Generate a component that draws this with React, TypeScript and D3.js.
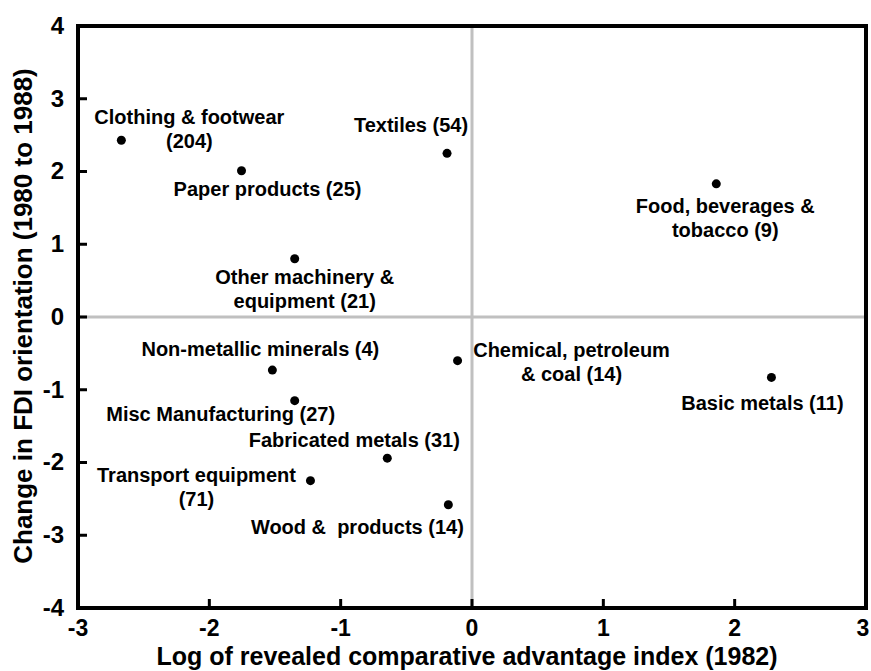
import React from "react";
import * as d3 from "d3";

const categories = [
  "Clothing & footwear (204)",
  "Textiles (54)",
  "Paper products (25)",
  "Food, beverages & tobacco (9)",
  "Other machinery & equipment (21)",
  "Non-metallic minerals (4)",
  "Chemical, petroleum & coal (14)",
  "Basic metals (11)",
  "Misc Manufacturing (27)",
  "Fabricated metals (31)",
  "Transport equipment (71)",
  "Wood &  products (14)",
];
const rcaValues = [-2.67, -0.19, -1.755, 1.86, -1.35, -1.52, -0.11, 2.28, -1.35, -0.645, -1.23, -0.18];
const fdiChange = [2.43, 2.25, 2.01, 1.83, 0.8, -0.73, -0.6, -0.83, -1.15, -1.94, -2.25, -2.58];
const xTicks = [-3, -2, -1, 0, 1, 2, 3];
const yTicks = [-4, -3, -2, -1, 0, 1, 2, 3, 4];

// label layout: lines and offset (px) of the first baseline from the dot
const labelLayout = [
  { lines: ["Clothing & footwear", "(204)"], dx: 68, dy: -16 },
  { lines: ["Textiles (54)"], dx: -36, dy: -21 },
  { lines: ["Paper products (25)"], dx: 26, dy: 25 },
  { lines: ["Food, beverages &", "tobacco (9)"], dx: 9, dy: 29 },
  { lines: ["Other machinery &", "equipment (21)"], dx: 10, dy: 25 },
  { lines: ["Non-metallic minerals (4)"], dx: -12, dy: -14 },
  { lines: ["Chemical, petroleum", "& coal (14)"], dx: 114, dy: -4 },
  { lines: ["Basic metals (11)"], dx: -9, dy: 33 },
  { lines: ["Misc Manufacturing (27)"], dx: -74, dy: 20 },
  { lines: ["Fabricated metals (31)"], dx: -33, dy: -11 },
  { lines: ["Transport equipment", "(71)"], dx: -114, dy: 1 },
  { lines: ["Wood &  products (14)"], dx: -91, dy: 29 },
];

const W = 871;
const H = 671;
const L = 78, R = 866, T = 26, B = 608;
const FONT = "'Liberation Sans', Arial, Helvetica, sans-serif";

export default function App() {
  const x = d3.scaleLinear().domain([-3, 3]).range([L, R]);
  const y = d3.scaleLinear().domain([-4, 4]).range([B, T]);
  return (
    <svg width={W} height={H} style={{ position: "absolute", left: 0, top: 0, background: "#fff" }} fontFamily={FONT}>
      <rect x={0} y={0} width={W} height={H} fill="#fff" />
      {/* zero lines */}
      <line x1={x(0)} x2={x(0)} y1={T} y2={B} stroke="#c0c0c0" strokeWidth={3} />
      <line x1={L} x2={R} y1={y(0)} y2={y(0)} stroke="#c0c0c0" strokeWidth={3} />
      {/* ticks */}
      {xTicks.slice(1, -1).map((t) => (
        <line key={"xt" + t} x1={x(t)} x2={x(t)} y1={B} y2={B - 9} stroke="#000" strokeWidth={3} />
      ))}
      {yTicks.slice(1, -1).map((t) => (
        <line key={"yt" + t} x1={L} x2={L + 9} y1={y(t)} y2={y(t)} stroke="#000" strokeWidth={3} />
      ))}
      <rect x={L} y={T} width={R - L} height={B - T} fill="none" stroke="#000" strokeWidth={4} />
      {/* tick labels */}
      {xTicks.map((t) => (
        <text key={"xl" + t} x={Math.min(x(t), W - 8)} y={636} textAnchor="middle" fontSize={23} fontWeight="bold">
          {t}
        </text>
      ))}
      {yTicks.map((t) => (
        <text key={"yl" + t} x={64} y={y(t)} dy="0.33em" textAnchor="end" fontSize={24} fontWeight="bold">
          {t}
        </text>
      ))}
      {/* axis titles */}
      <text x={467} y={665} textAnchor="middle" fontSize={25} fontWeight="bold">
        Log of revealed comparative advantage index (1982)
      </text>
      <text transform={`translate(32,316) rotate(-90)`} textAnchor="middle" fontSize={26} fontWeight="bold">
        Change in FDI orientation (1980 to 1988)
      </text>
      {/* points */}
      {categories.map((c, i) => (
        <circle key={"p" + i} cx={x(rcaValues[i])} cy={y(fdiChange[i])} r={4.5} fill="#000" />
      ))}
      {labelLayout.map((lab, i) => (
        <text key={"lab" + i} fontSize={20} fontWeight="bold" textAnchor="middle" style={{ whiteSpace: "pre" }}>
          {lab.lines.map((ln, j) => (
            <tspan key={j} x={x(rcaValues[i]) + lab.dx} y={y(fdiChange[i]) + lab.dy + j * 24}>
              {ln}
            </tspan>
          ))}
        </text>
      ))}
    </svg>
  );
}
